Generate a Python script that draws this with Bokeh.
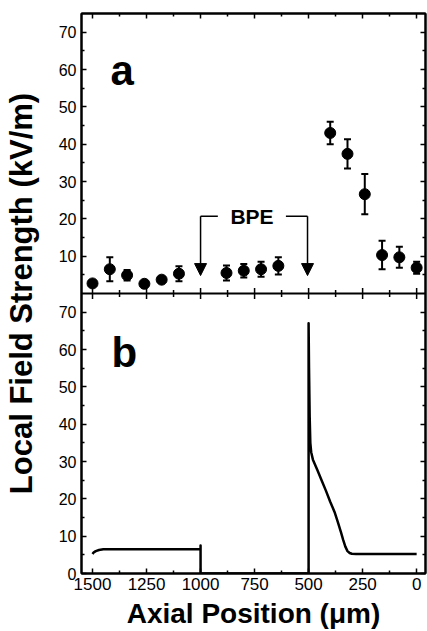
from math import pi
from bokeh.plotting import figure
from bokeh.models import (Range1d, LinearAxis, FixedTicker, CustomJSTickFormatter, Span,
                          ColumnDataSource, Whisker, TeeHead, Arrow, NormalHead, Label)
from bokeh.core.properties import value
from bokeh.embed import file_html
from bokeh.resources import INLINE

# ---------------- data ----------------
# panel a: measured local field strength (kV/m) vs axial position (um)
pos_a = [1500, 1420, 1340, 1260, 1180, 1100, 880, 800, 720, 640, 400, 320, 240, 160, 80, 0]
field_a = [2.7, 6.5, 4.9, 2.6, 3.7, 5.3, 5.5, 6.1, 6.5, 7.4, 43.0, 37.4, 26.6, 10.3, 9.7, 6.9]
err_a = [0.5, 3.2, 1.4, 0.5, 0.8, 2.0, 2.0, 1.8, 2.0, 2.3, 3.0, 3.9, 5.4, 3.8, 2.8, 1.6]

# panel b: simulated profile
pos_b = [1500, 1495, 1485, 1470, 1450, 1400, 1000, 1000, 1000, 500, 500, 498, 495, 492, 488,
         480, 460, 440, 420, 400, 380, 365, 350, 340, 330, 320, 310, 300, 280, 250, 0]
field_b = [5.2, 5.6, 6.0, 6.3, 6.5, 6.5, 6.5, 7.5, 0.0, 0.0, 67.0, 55.0, 42.0, 35.0, 32.5,
           30.5, 27.8, 25.0, 22.2, 19.2, 16.5, 13.8, 11.0, 9.0, 7.2, 6.0, 5.5, 5.3, 5.2, 5.2, 5.2]

# ticks
x_major = [1500, 1250, 1000, 750, 500, 250, 0]
x_minor = [1375, 1125, 875, 625, 375, 125]
ya_major = [10, 20, 30, 40, 50, 60, 70]
ya_minor = [5, 15, 25, 35, 45, 55, 65]
yb_major = [0, 10, 20, 30, 40, 50, 60, 70]
yb_minor = [5, 15, 25, 35, 45, 55, 65]
panel_span = 75  # each panel shows 0..75

# BPE annotation (panel a coordinates)
bpe_ends = [1000, 505]
bpe_gap = [920, 605]
bpe_level = 20.7
bpe_tip = 4.8
bpe_label_x = 762

FONT = "Liberation Sans"

p = figure(width=427, height=631, output_backend="svg", toolbar_location=None,
           x_range=Range1d(1551, -41), y_range=Range1d(0, 2 * panel_span),
           x_axis_location=None, y_axis_location=None,
           min_border_left=79, min_border_right=2, min_border_top=13, min_border_bottom=58)
p.extra_y_ranges = {"a": Range1d(-panel_span, panel_span)}
p.grid.visible = False
p.outline_line_color = "black"
p.outline_line_width = 2
p.background_fill_color = "white"
p.border_fill_color = "white"

yticker = FixedTicker(ticks=yb_major + [panel_span + t for t in ya_major],
                      minor_ticks=yb_minor + [panel_span + t for t in ya_minor])
xticker = FixedTicker(ticks=x_major, minor_ticks=x_minor)


def style(ax, labels=True, size="16px"):
    ax.axis_line_width = 2
    ax.axis_line_color = "black"
    ax.major_tick_in = 5
    ax.major_tick_out = 0
    ax.minor_tick_in = 3
    ax.minor_tick_out = 0
    ax.major_tick_line_width = 1.5
    ax.minor_tick_line_width = 1.5
    ax.major_tick_line_color = "black"
    ax.minor_tick_line_color = "black"
    ax.major_label_text_font = FONT
    if labels:
        ax.major_label_text_font_size = size
        ax.major_label_text_color = "black"
    else:
        ax.major_label_text_font_size = "0px"
        ax.major_label_text_color = None
        ax.major_label_standoff = 0


left = LinearAxis(ticker=yticker,
                  formatter=CustomJSTickFormatter(args=dict(off=panel_span),
                                                  code="return String(tick > off ? tick - off : tick);"),
                  axis_label="Local Field Strength (kV/m)")
style(left, True, "16px")
left.major_label_standoff = 5
left.axis_label_text_font = FONT
left.axis_label_text_font_style = "bold"
left.axis_label_text_font_size = "31px"
left.axis_label_text_color = "black"
left.axis_label_standoff = 17
p.add_layout(left, "left")

right = LinearAxis(ticker=yticker)
style(right, False)
p.add_layout(right, "right")

top = LinearAxis(ticker=xticker)
style(top, False)
p.add_layout(top, "above")

bottom = LinearAxis(ticker=xticker, axis_label="Axial Position (\u03bcm)")
style(bottom, True, "17px")
bottom.major_label_standoff = 4
bottom.axis_label_text_font = FONT
bottom.axis_label_text_font_style = "bold"
bottom.axis_label_text_font_size = "28px"
bottom.axis_label_text_color = "black"
bottom.axis_label_standoff = 5
p.add_layout(bottom, "below")

# divider between panels, with ticks crossing it
p.add_layout(Span(location=panel_span, dimension="width", line_color="black", line_width=2))
p.scatter(x=x_major, y=[panel_span] * len(x_major), marker="dash", angle=pi / 2,
          size=11, line_width=1.5, line_color="black")
p.scatter(x=x_minor, y=[panel_span] * len(x_minor), marker="dash", angle=pi / 2,
          size=7, line_width=1.5, line_color="black")

# panel b curve
p.line(pos_b, field_b, line_width=2.5, line_color="black", line_join="round")

# panel a points with error bars
src = ColumnDataSource(dict(x=pos_a, y=field_a,
                            lower=[v - e for v, e in zip(field_a, err_a)],
                            upper=[v + e for v, e in zip(field_a, err_a)]))
p.add_layout(Whisker(source=src, base="x", upper="upper", lower="lower", dimension="height",
                     y_range_name="a", line_width=2, line_color="black",
                     upper_head=TeeHead(size=7, line_width=2, line_color="black"),
                     lower_head=TeeHead(size=7, line_width=2, line_color="black")))
p.scatter("x", "y", source=src, size=11, color="black", y_range_name="a")

# BPE bracket
for xe in bpe_ends:
    p.add_layout(Arrow(x_start=xe, y_start=bpe_level, x_end=xe, y_end=bpe_tip,
                       y_range_name="a", line_width=1.5, line_color="black",
                       end=NormalHead(size=12, fill_color="black", line_color="black")))
p.segment(x0=[bpe_ends[0], bpe_gap[1]], x1=[bpe_gap[0], bpe_ends[1]],
          y0=[bpe_level, bpe_level], y1=[bpe_level, bpe_level],
          y_range_name="a", line_width=1.5, line_color="black")
p.text(x=[bpe_label_x], y=[bpe_level], text=["BPE"], y_range_name="a",
       text_font=value(FONT), text_font_style="bold", text_font_size="21px",
       text_align="center", text_baseline="middle", text_color="black")

# panel letters
p.add_layout(Label(x=29, y=503, x_units="screen", y_units="screen", text="a",
                   text_font=FONT, text_font_style="bold", text_font_size="42px",
                   text_baseline="alphabetic", text_color="black"))
p.add_layout(Label(x=30, y=221, x_units="screen", y_units="screen", text="b",
                   text_font=FONT, text_font_style="bold", text_font_size="42px",
                   text_baseline="alphabetic", text_color="black"))

open("out.html", "w").write(file_html(p, INLINE))
